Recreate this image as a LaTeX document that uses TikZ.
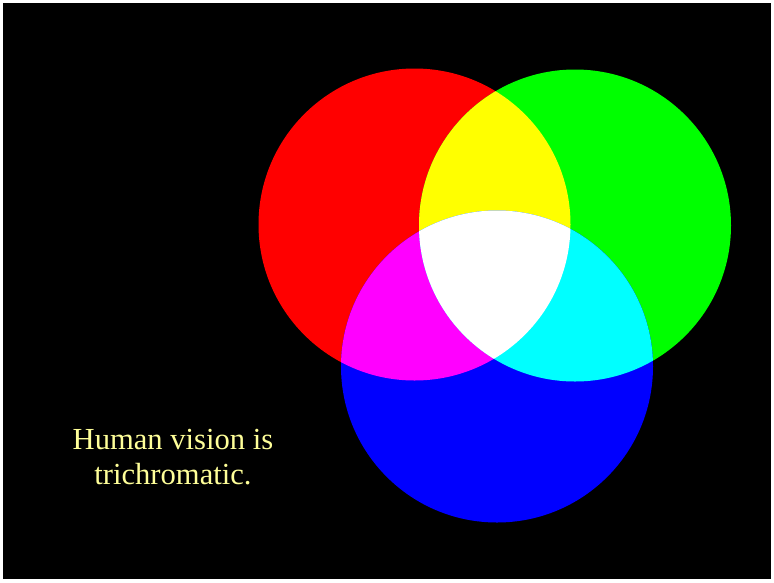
\documentclass[tikz,border=0pt]{standalone}
\usepackage{fontspec}
\setmainfont{Liberation Serif}
\definecolor{txt}{RGB}{255,255,153}
\definecolor{pr}{RGB}{255,0,0}
\definecolor{pg}{RGB}{0,255,0}
\definecolor{pb}{RGB}{0,0,255}
\definecolor{py}{RGB}{255,255,0}
\definecolor{pm}{RGB}{255,0,255}
\definecolor{pc}{RGB}{0,255,255}
\definecolor{pw}{RGB}{255,255,255}
\tikzset{
  disc/.style={radius=156pt},
  caption/.style={align=center, text=txt, font=\fontsize{30.6}{35}\selectfont, inner sep=0pt}
}
\begin{document}
\begin{tikzpicture}[x=1pt,y=-1pt]
\useasboundingbox (0,0) rectangle (774,582);
\fill[pw] (0,0) rectangle (774,582);
\fill[black] (3,3) rectangle (771,579);
\coordinate (R) at (414.5,224.5);
\coordinate (G) at (575,225.5);
\coordinate (B) at (497,366.5);
% primaries
\fill[pr] (R) circle[disc];
\fill[pg] (G) circle[disc];
\fill[pb] (B) circle[disc];
% pairwise overlaps
\begin{scope}
  \clip (R) circle[disc];
  \fill[py] (G) circle[disc];
  \fill[pm] (B) circle[disc];
\end{scope}
\begin{scope}
  \clip (G) circle[disc];
  \fill[pc] (B) circle[disc];
\end{scope}
% triple overlap
\begin{scope}
  \clip (R) circle[disc];
  \clip (G) circle[disc];
  \fill[pw] (B) circle[disc];
\end{scope}
\node[caption] (cap) at (173,457) {Human vision is\\trichromatic.};
\end{tikzpicture}
\end{document}
